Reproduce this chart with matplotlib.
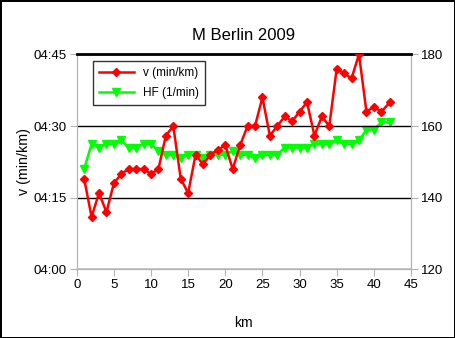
import matplotlib.pyplot as plt
from matplotlib.ticker import FuncFormatter

plt.rcParams['font.family'] = ['Liberation Sans', 'DejaVu Sans']

# km marks (last one is the finish line)
km = [1, 2, 3, 4, 5, 6, 7, 8, 9, 10, 11, 12, 13, 14, 15, 16, 17, 18, 19, 20, 21,
      22, 23, 24, 25, 26, 27, 28, 29, 30, 31, 32, 33, 34, 35, 36, 37, 38, 39, 40, 41, 42.195]
pace = ["4:19", "4:11", "4:16", "4:12", "4:18", "4:20", "4:21", "4:21", "4:21", "4:20", "4:21",
        "4:28", "4:30", "4:19", "4:16", "4:24", "4:22", "4:24", "4:25", "4:26", "4:21",
        "4:26", "4:30", "4:30", "4:36", "4:28", "4:30", "4:32", "4:31", "4:33", "4:35",
        "4:28", "4:32", "4:30", "4:42", "4:41", "4:40", "4:45", "4:33", "4:34", "4:33", "4:35"]
hf = [148, 155, 154, 155, 155, 156, 154, 154, 155, 155, 153, 152, 152, 151, 152, 152, 151,
      152, 152, 152, 153, 152, 152, 151, 152, 152, 152, 154, 154, 154, 154, 155, 155, 155,
      156, 155, 155, 156, 159, 159, 161, 161]

def to_sec(s):
    m, sec = s.split(":")
    return int(m) * 60 + int(sec)

pace_sec = [to_sec(p) for p in pace]

def fmt_time(v, pos):
    v = int(round(v))
    return "%02d:%02d" % (v // 60, v % 60)

fig = plt.figure(figsize=(4.55, 3.38), dpi=100, facecolor='white',
                 edgecolor='black', linewidth=2)
ax = fig.add_axes([0.1686, 0.2027, 0.7347, 0.6366])
ax2 = ax.twinx()

# pace line on top of the heart rate line
ax.set_zorder(ax2.get_zorder() + 1)
ax.patch.set_visible(False)
ax2.set_facecolor('#d9d9d9')

grey = '#b3b3b3'
l1, = ax.plot(km, pace_sec, color='#ff0000', lw=1.8, marker='D', ms=4.5,
              label='v (min/km)', zorder=3)
ax.set_xlim(0, 45)
ax.set_ylim(240, 285)
ax.set_xticks(range(0, 46, 5))
ax.set_yticks([240, 255, 270, 285])
ax.yaxis.set_major_formatter(FuncFormatter(fmt_time))
ax.grid(axis='y', color='black', lw=1)
ax.set_axisbelow(True)
for s in ['left', 'bottom', 'right']:
    ax.spines[s].set_color(grey)
ax.spines['top'].set_color('black')
ax.spines['top'].set_linewidth(2)
ax.tick_params(direction='out', length=5, color=grey, labelsize=9.5, pad=2)

l2, = ax2.plot(km, hf, color='#00ff00', lw=1.8, marker='v', ms=6,
               label='HF (1/min)', zorder=3)
ax2.set_ylim(120, 180)
ax2.set_yticks([120, 140, 160, 180])
for s in ['left', 'bottom', 'right']:
    ax2.spines[s].set_color(grey)
ax2.spines['top'].set_visible(False)
ax2.tick_params(direction='out', length=5, color=grey, labelsize=9.5, pad=2)

ax.set_title("M Berlin 2009", fontsize=12, pad=10)
ax.set_xlabel("km", fontsize=10, labelpad=18)
ax.set_ylabel("v (min/km)", fontsize=10.3, labelpad=2)

leg = ax.legend(handles=[l1, l2], loc='upper left', bbox_to_anchor=(0.03, 0.995),
                fontsize=8.5, frameon=True, fancybox=False, facecolor='none',
                edgecolor='black', handlelength=3, borderpad=0.5, labelspacing=0.7)
leg.get_frame().set_linewidth(1)

fig.savefig("out.png", dpi=100)
